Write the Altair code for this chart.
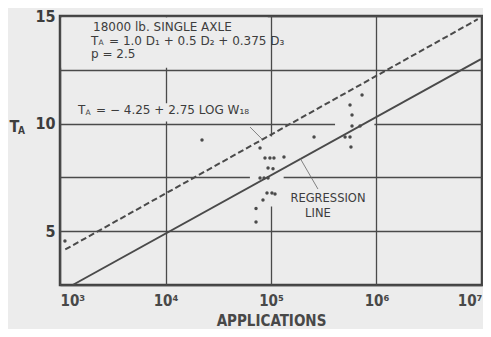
import altair as alt
import pandas as pd
import numpy as np

# ---- axis ticks ----
x_ticks = [1e3, 1e4, 1e5, 1e6, 1e7]
x_tick_labels = ['10³', '10⁴', '10⁵', '10⁶', '10⁷']
y_ticks = [2.5, 5, 7.5, 10, 12.5, 15]
y_tick_labels = ['', '5', '', '10', '', '15']

# ---- observed points (log10 applications, T_A) ----
pt_log = [3.047, 4.346, 4.896, 4.943, 4.990, 5.028, 5.123, 4.972, 5.019,
          4.896, 4.934, 4.972, 4.962, 5.009, 5.038, 4.924, 4.858, 4.858,
          5.408, 5.863, 5.749, 5.768, 5.768, 5.844, 5.702, 5.749, 5.758]
pt_ta = [4.54, 9.24, 8.87, 8.40, 8.40, 8.40, 8.45, 7.94, 7.90,
         7.47, 7.47, 7.47, 6.78, 6.78, 6.73, 6.45, 6.05, 5.43,
         9.38, 11.33, 10.86, 10.40, 9.89, 9.89, 9.38, 9.38, 8.91]

# ---- lines ----
eq_line_log = [3.05, 6.96]      # T_A = -4.25 + 2.75 log W18 (dashed)
eq_line_ta = [4.15, 14.85]
reg_line_log = [3.12, 6.99]     # regression line (solid)
reg_line_ta = [2.5, 13.0]

# ---- leader lines for labels ----
lead_log1 = [4.801, 5.445]
lead_ta1 = [9.84, 6.96]
lead_log2 = [4.915, 5.275]
lead_ta2 = [9.28, 8.40]

# ---- background patches where grid lines are erased ----
gap_log1 = [3.015, 3.10, 4.80, 5.607]
gap_log2 = [4.97, 4.95, 5.12, 5.98]
gap_ta1 = [12.6, 10.1, 6.15, 9.8]
gap_ta2 = [14.93, 10.95, 9.4, 10.2]

BG = '#ececec'
INK = '#3d3d3d'
LINE = '#4a4a4a'
NARROW = 'Liberation Sans Narrow, DejaVu Sans Condensed, sans-serif'
TXT = 'DejaVu Sans'

xs = alt.Scale(type='log', domain=[1e3, 1e7])
ys = alt.Scale(domain=[2.5, 15], nice=False, zero=False)

x_label_expr = f"{x_tick_labels}[round(log(datum.value)/LN10)-3]"
y_label_expr = f"{y_tick_labels}[round(datum.value/2.5)-1]"

pts = pd.DataFrame({'apps': np.power(10.0, pt_log), 'ta': pt_ta})
lines = pd.DataFrame({
    'apps': np.power(10.0, eq_line_log + reg_line_log),
    'ta': eq_line_ta + reg_line_ta,
    'kind': ['eq', 'eq', 'reg', 'reg'],
})
leads = pd.DataFrame({'a1': np.power(10.0, lead_log1), 't1': lead_ta1,
                      'a2': np.power(10.0, lead_log2), 't2': lead_ta2})
gaps = pd.DataFrame({'a1': np.power(10.0, gap_log1), 'a2': np.power(10.0, gap_log2),
                     't1': gap_ta1, 't2': gap_ta2})

base_x = alt.X('apps:Q', scale=xs, axis=alt.Axis(
    values=x_ticks, labelExpr=x_label_expr, grid=True, ticks=False, domain=False,
    gridColor=LINE, gridWidth=1.3, labelFont=NARROW, labelFontSize=15,
    labelFontWeight='bold', labelColor='#484848', labelPadding=8, labelFlush=True,
    labelOverlap=False, labelBound=False,
    title='APPLICATIONS', titleFont=NARROW, titleFontSize=15, titleFontWeight='bold',
    titleColor='#484848', titleBaseline='alphabetic', titleY=40))
base_y = alt.Y('ta:Q', scale=ys, axis=alt.Axis(
    values=y_ticks, labelExpr=y_label_expr, grid=True, ticks=False, domain=False,
    gridColor=LINE, gridWidth=1.3, labelFont=NARROW, labelFontSize=16,
    labelFontWeight='bold', labelColor=INK, labelPadding=5,
    title='T', titleAngle=0, titleAlign='center', titleBaseline='middle',
    titleX=-46, titleY=110, titleFont=NARROW, titleFontSize=16,
    titleFontWeight='bold', titleColor=INK))

gap_layer = alt.Chart(gaps).mark_rect(fill=BG, stroke=None).encode(
    x=alt.X('a1:Q', scale=xs), x2='a2:Q', y=alt.Y('t1:Q', scale=ys), y2='t2:Q')

pts_layer = alt.Chart(pts).mark_circle(size=12, color=LINE, opacity=1).encode(
    x=base_x, y=base_y)

eq_layer = alt.Chart(lines).transform_filter(alt.datum.kind == 'eq').mark_line(
    color=LINE, strokeWidth=2, strokeDash=[6, 3]).encode(
    x=alt.X('apps:Q', scale=xs), y=alt.Y('ta:Q', scale=ys))
reg_layer = alt.Chart(lines).transform_filter(alt.datum.kind == 'reg').mark_line(
    color=LINE, strokeWidth=2).encode(
    x=alt.X('apps:Q', scale=xs), y=alt.Y('ta:Q', scale=ys))

lead_layer = alt.Chart(leads).mark_rule(color='#666', strokeWidth=0.8).encode(
    x=alt.X('a1:Q', scale=xs), y=alt.Y('t1:Q', scale=ys), x2='a2:Q', y2='t2:Q')

# ---- text annotations ----
ann = pd.DataFrame({
    'apps': np.power(10.0, [3.313, 3.294, 3.294, 3.171, 5.540, 5.445]),
    'ta': [14.49, 13.84, 13.25, 10.63, 6.50, 5.80],
    'main': ['18000 lb. SINGLE AXLE', 'T', 'p = 2.5', 'T', 'REGRESSION', 'LINE'],
    'rest': ['', '= 1.0 D₁ + 0.5 D₂ + 0.375 D₃', '', '= − 4.25 + 2.75 LOG W₁₈', '', ''],
    'sub': ['', 'A', '', 'A', '', ''],
    'align': ['left', 'left', 'left', 'left', 'center', 'center'],
})

def txt(df, field, align, dx=0, dy=0, size=12):
    return alt.Chart(df).mark_text(align=align, baseline='middle', dx=dx, dy=dy,
                                   font=TXT, fontSize=size, color=INK).encode(
        x=alt.X('apps:Q', scale=xs), y=alt.Y('ta:Q', scale=ys), text=f'{field}:N')

left_ann = ann[ann['align'] == 'left']
center_ann = ann[ann['align'] == 'center']
sub_ann = ann[ann['sub'] != '']

text_layers = [
    txt(left_ann, 'main', 'left'),
    txt(center_ann, 'main', 'center', size=11.5),
    txt(sub_ann, 'sub', 'left', dx=7.5, dy=2.5, size=7.5),
    txt(sub_ann, 'rest', 'left', dx=18),
]

ylab_sub = alt.Chart(pd.DataFrame({'t': ['A']})).mark_text(
    font=NARROW, fontSize=10, fontWeight='bold', color=INK, align='left',
    baseline='middle').encode(x=alt.value(-42), y=alt.value(115), text='t:N')

chart = alt.layer(
    pts_layer.mark_circle(size=0, opacity=0),  # establishes axes first
    gap_layer, eq_layer, reg_layer, lead_layer, pts_layer, *text_layers, ylab_sub
).properties(
    width=422, height=269,
    padding={'left': 52, 'top': 8, 'right': 1, 'bottom': 44},
    autosize=alt.AutoSizeParams(type='none'),
    background=BG,
).configure_view(stroke='#404040', strokeWidth=2.5)

chart.save('out.html', embed_options={'renderer': 'svg', 'actions': False})
